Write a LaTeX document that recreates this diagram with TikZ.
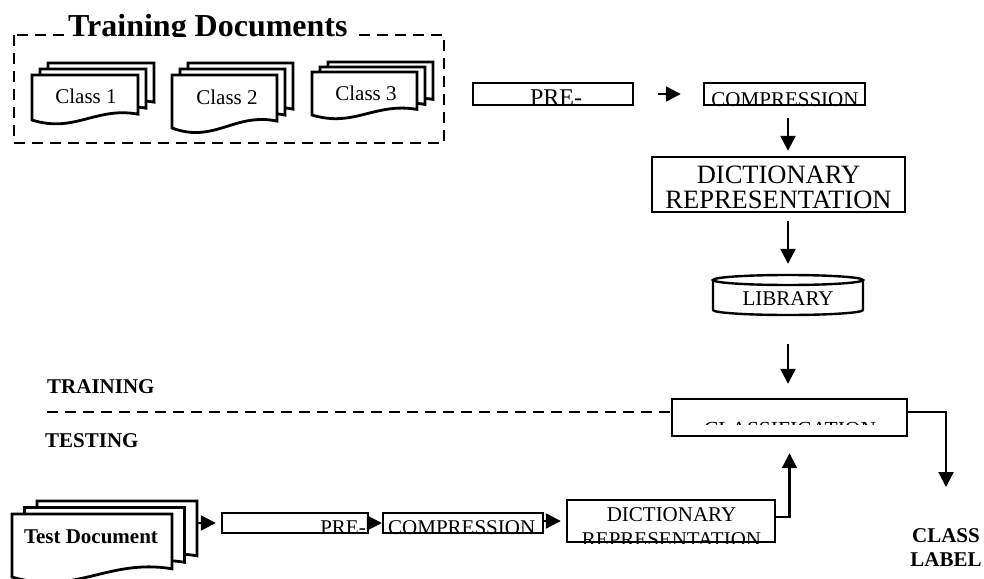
\documentclass[tikz,border=0pt]{standalone}
\usepackage{fontspec}
\setmainfont{Liberation Serif}
\usepackage{xcolor}
\usepackage{tikz}
\usetikzlibrary{arrows.meta,calc}
\tikzset{
  box/.style={draw,line width=2.4pt,inner sep=0pt},
  txt/.style={font=\fontsize{21}{25}\selectfont,inner sep=0pt},
  hdr/.style={font=\fontsize{21}{24}\selectfont\bfseries,inner sep=0pt},
  sheet/.style={draw,line width=2.8pt,fill=white},
  flow/.style={-{Triangle[length=15pt,width=15pt]},line width=2.2pt},
  divider/.style={line width=2.2pt,dash pattern=on 11pt off 7pt},
  pics/docstack/.style n args={4}{code={
    \foreach \k in {2,1,0}{
      \draw[sheet,shift={(\k*#3,-\k*#4)}] (0,0) -- (#1,0) -- (#1,0.87*#2)
        .. controls (0.6*#1,0.7*#2) and (0.4*#1,1.3*#2) .. (0,#2) -- cycle;
    }
  }},
}

\begin{document}
\begin{tikzpicture}[x=1pt,y=-1pt]
\useasboundingbox (0,0) rectangle (984,578);

% training set
\draw[divider] (14,35) rectangle (444,143);
\begin{scope}
  \clip (60,5) rectangle (358,36.5);
  \node[fill=white,font=\fontsize{32}{36}\selectfont\bfseries,inner sep=0pt,inner xsep=4pt,anchor=base west] (title) at (64,36.6) {Training Documents};
\end{scope}
\pic at (32,75) {docstack={106}{45}{8}{6}};
\node[txt,anchor=base] (c1) at (86,103) {Class 1};
\pic at (172,75) {docstack={105}{53}{8}{6}};
\node[txt,anchor=base] (c2) at (227,104) {Class 2};
\pic at (312,72) {docstack={105}{43}{8}{5}};
\node[txt,anchor=base] (c3) at (366,100) {Class 3};

\node[box,minimum width=160,minimum height=22] (pre1) at (553,94) {};
\begin{scope}
  \clip (pre1.north west) rectangle (pre1.south east);
  \node[txt,font=\fontsize{24}{28}\selectfont,anchor=base] at (556,105.5) {PRE-};
\end{scope}
\node[box,minimum width=161,minimum height=22] (comp1) at (784.5,94) {};
\begin{scope}
  \clip (comp1.north west) rectangle (comp1.south east);
  \node[txt,anchor=base] at (785,106.5) {COMPRESSION};
\end{scope}
\node[box,minimum width=253,minimum height=55] (dict1) at (778.5,184.5) {};
\node[txt,font=\fontsize{26.5}{25}\selectfont,align=center,anchor=north] (dict1txt) at (778.5,165.5) {DICTIONARY\\REPRESENTATION};
\node[txt,minimum width=150,minimum height=30] (lib) at (788,299) {LIBRARY};
\draw[line width=2.4pt] ($(lib.center)+(-75,-19)$) -- ($(lib.center)+(-75,11)$)
  arc[start angle=180,end angle=360,x radius=75pt,y radius=5pt] -- ($(lib.center)+(75,-19)$);
\draw[line width=2.4pt] ($(lib.center)+(0,-19)$) ellipse[x radius=75pt,y radius=5pt];

\draw[flow] ([xshift=24]pre1.east) -- ([xshift=-22]comp1.west);
\draw[flow] ($(lib.north |- comp1.south)+(0,12)$) -- ($(lib.north |- dict1.north)+(0,-5)$);
\draw[flow] ($(lib.north |- dict1.south)+(0,8)$) -- ([yshift=20]lib.north);

% classifier
\node[box,minimum width=235,minimum height=37] (cls) at (789.5,417.5) {};
\begin{scope}
  \clip (cls.north west) rectangle ($(cls.north east)+(0,27)$);
  \node[txt,font=\fontsize{21.5}{25}\selectfont,anchor=base] at (790,436) {CLASSIFICATION};
\end{scope}
\draw[flow] ($(lib.south)+(0,30)$) -- ($(lib.south |- cls.north)+(0,-14)$);
\node[hdr,anchor=base west] (trn) at (47,393) {TRAINING};
\node[hdr,anchor=base west] (tst) at (45,447) {TESTING};
\draw[divider] (47,412) -- ([yshift=5.5]cls.west);
\node[hdr,align=center,anchor=north] (lab) at (946,528) {CLASS\\LABEL};
\draw[flow] ([yshift=5.5]cls.east) -| ([yshift=41]lab.north);

% test set
\pic at (12,514) {docstack={160}{63}{12.5}{6.5}};
\node[hdr,anchor=base] (tdoc) at (91,543) {Test Document};
\coordinate (tdocout) at (196,523);
\node[box,minimum width=146,minimum height=20] (pre2) at (295,523) {};
\begin{scope}
  \clip (pre2.north west) rectangle (pre2.south east);
  \node[txt,anchor=base east] at (366,534) {PRE-};
\end{scope}
\node[box,minimum width=160,minimum height=20] (comp2) at (463,523) {};
\begin{scope}
  \clip (comp2.north west) rectangle (comp2.south east);
  \node[txt,anchor=base west] at (388,534) {COMPRESSION};
\end{scope}
\node[box,minimum width=208,minimum height=42] (dict2) at (671,521) {};
\begin{scope}
  \clip (dict2.north west) rectangle (dict2.south east);
  \node[txt,align=center,anchor=north] at (671.5,507) {DICTIONARY\\REPRESENTATION};
\end{scope}
\draw[flow] (tdocout) -- ([xshift=-5]pre2.west);
\draw[flow] (pre2.east) -- (comp2.west);
\draw[flow] (comp2.east |- dict2.west) -- ([xshift=-5]dict2.west);
\draw[flow] ([yshift=4]dict2.east) -| ([yshift=-16]cls.south);
\end{tikzpicture}
\end{document}
